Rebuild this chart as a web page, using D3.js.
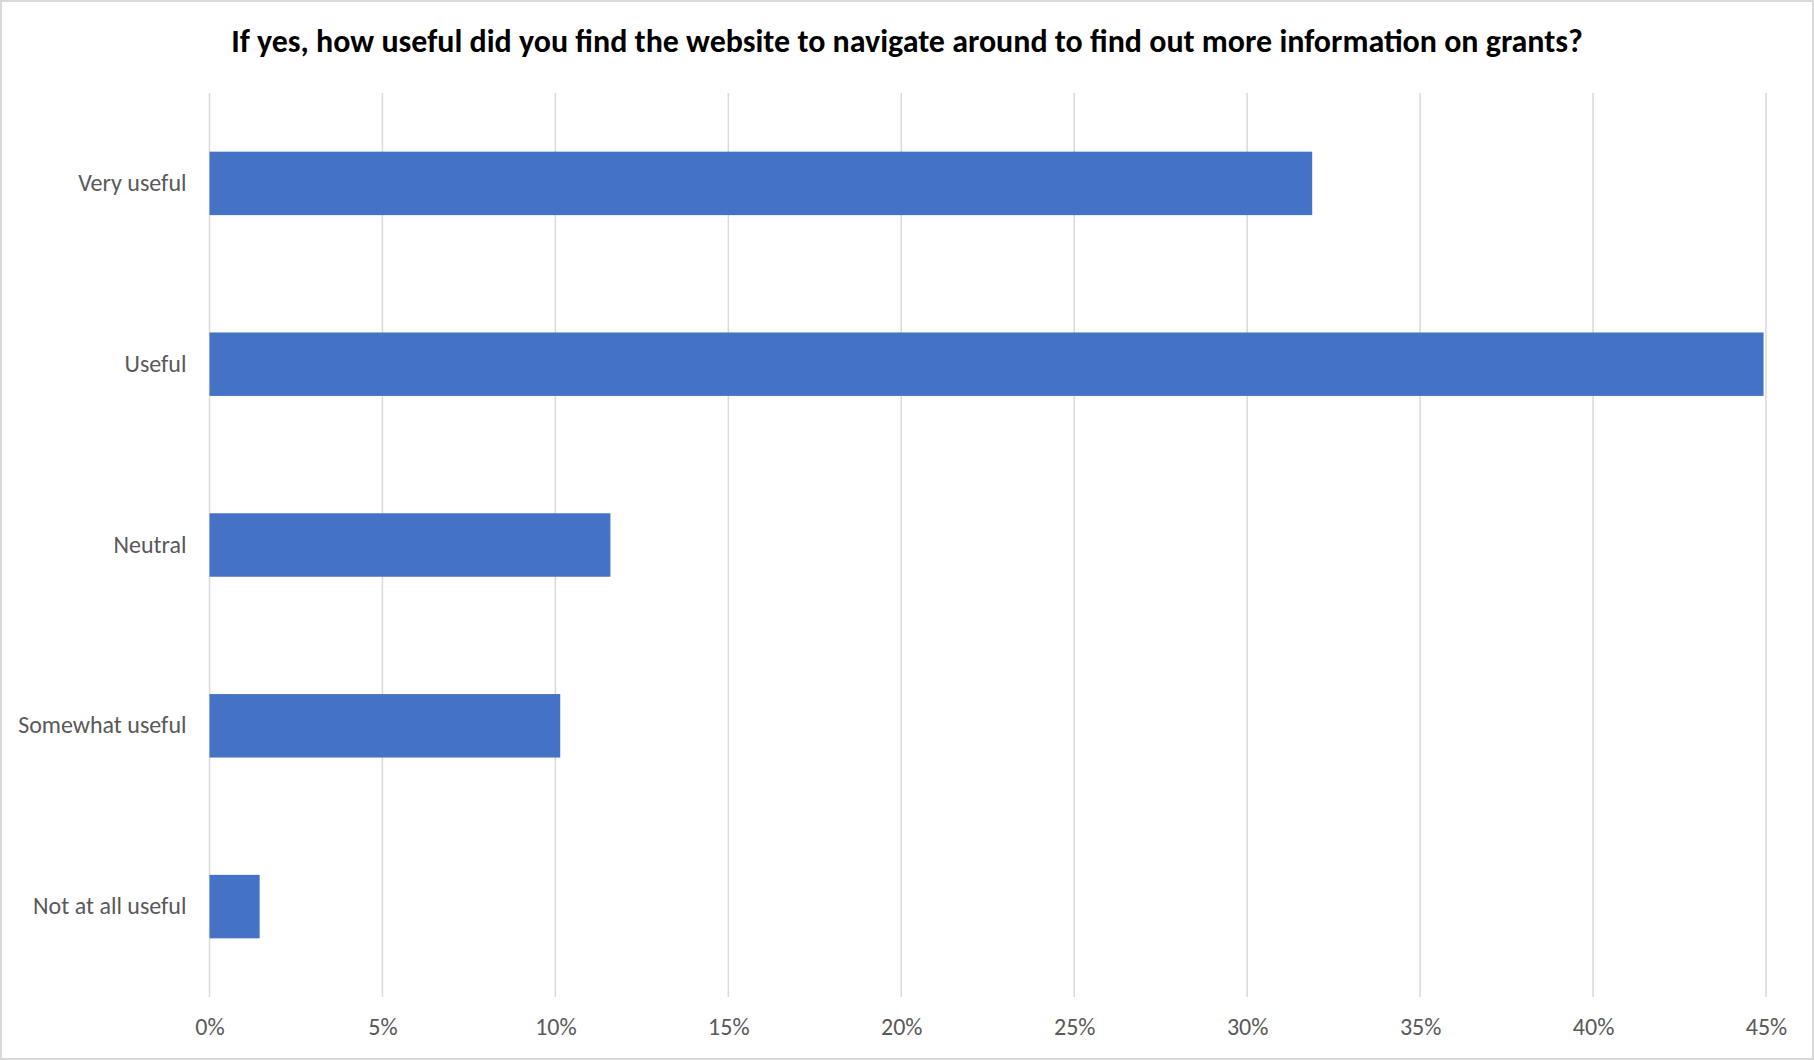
<!DOCTYPE html>
<html>
<head>
<meta charset="utf-8">
<script src="https://cdn.jsdelivr.net/npm/d3@7"></script>
<style>
  html, body { margin: 0; padding: 0; background: #fff; }
  svg { display: block; }
</style>
</head>
<body>
<svg id="chart" width="1814" height="1060"></svg>
<script>
// Survey responses (share of respondents, %)
const categories = ["Very useful", "Useful", "Neutral", "Somewhat useful", "Not at all useful"];
const values = [31.88, 44.93, 11.59, 10.14, 1.45];
const tickValues = [0, 5, 10, 15, 20, 25, 30, 35, 40, 45];
const tickLabels = ["0%", "5%", "10%", "15%", "20%", "25%", "30%", "35%", "40%", "45%"];
const titleText = "If yes, how useful did you find the website to navigate around to find out more information on grants?";

const W = 1814, H = 1060;
const margin = { top: 93, right: 48, bottom: 63, left: 209.5 };
const FONT = "Carlito, 'Open Sans', sans-serif";

const svg = d3.select("#chart");

// chart border
svg.append("rect")
  .attr("x", 1).attr("y", 1)
  .attr("width", W - 2).attr("height", H - 2)
  .attr("fill", "#fff")
  .attr("stroke", "#d9d9d9")
  .attr("stroke-width", 2);

const x = d3.scaleLinear()
  .domain([0, 45])
  .range([margin.left, W - margin.right]);

const y = d3.scaleBand()
  .domain(categories)
  .range([margin.top, H - margin.bottom])
  .paddingInner(0.649)
  .paddingOuter(0.3245);

// vertical gridlines
svg.append("g")
  .selectAll("line")
  .data(tickValues)
  .join("line")
  .attr("x1", d => x(d)).attr("x2", d => x(d))
  .attr("y1", margin.top).attr("y2", H - margin.bottom)
  .attr("stroke", "#d9d9d9")
  .attr("stroke-width", 1.5);

// bars
svg.append("g")
  .selectAll("rect")
  .data(categories.map((c, i) => ({ c, v: values[i] })))
  .join("rect")
  .attr("x", x(0))
  .attr("y", d => y(d.c))
  .attr("width", d => x(d.v) - x(0))
  .attr("height", y.bandwidth())
  .attr("fill", "#4472c4");

// category axis labels
const yAxis = d3.axisLeft(y).tickSize(0).tickPadding(23);
const gy = svg.append("g")
  .attr("transform", `translate(${x(0)},0)`)
  .call(yAxis);
gy.select(".domain").remove();
gy.selectAll("text")
  .attr("font-family", FONT)
  .attr("font-size", 24)
  .attr("fill", "#595959");

// value axis labels
const xAxis = d3.axisBottom(x)
  .tickValues(tickValues)
  .tickFormat((d, i) => tickLabels[i])
  .tickSize(0)
  .tickPadding(21);
const gx = svg.append("g")
  .attr("transform", `translate(0,${H - margin.bottom})`)
  .call(xAxis);
gx.select(".domain").remove();
gx.selectAll("text")
  .attr("font-family", FONT)
  .attr("font-size", 24)
  .attr("fill", "#595959");

// title, sized to span the plot width
const title = svg.append("text")
  .attr("x", W / 2)
  .attr("y", 52)
  .attr("text-anchor", "middle")
  .attr("font-family", FONT)
  .attr("font-weight", "bold")
  .attr("font-size", 26)
  .attr("fill", "#000")
  .text(titleText);
const targetWidth = 1352;
const w = title.node().getComputedTextLength();
title.attr("font-size", 26 * targetWidth / w);
</script>
</body>
</html>
